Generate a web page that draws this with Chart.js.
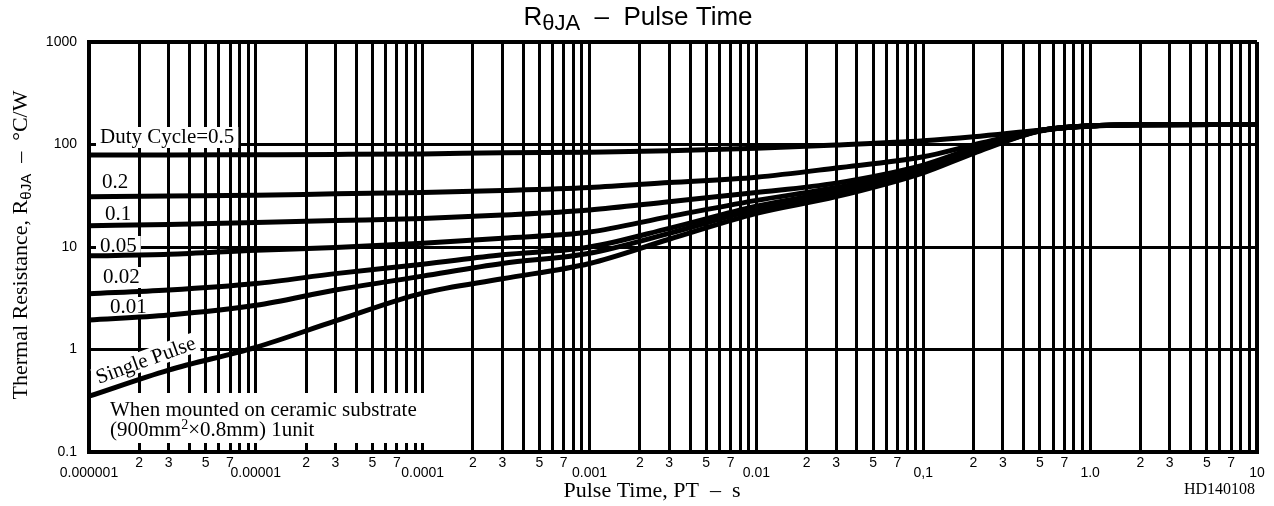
<!DOCTYPE html>
<html>
<head>
<meta charset="utf-8">
<script src="https://cdn.jsdelivr.net/npm/chart.js@4.4.1/dist/chart.umd.min.js"></script>
<style>
  html, body { margin: 0; padding: 0; background: #fff; }
  #chart { display: block; }
</style>
</head>
<body>
<canvas id="chart" width="1274" height="506"></canvas>
<script>
// pulse times where the curves were read (s)
const pulseTime = [1e-6, 3e-6, 1e-5, 3e-5, 1e-4, 3e-4, 1e-3, 3e-3, 1e-2, 3e-2, 0.1, 0.2, 0.5, 1, 2, 10];

// thermal resistance (°C/W) for each duty cycle
const duty05 = [79, 79, 79.5, 80, 81, 83, 84, 87, 92, 99, 109, 119, 138, 152, 156, 157];
const duty02 = [31, 31.5, 32, 33, 34, 35.5, 38, 42.5, 48, 59, 76, 99, 137, 152, 156, 157];
const duty01 = [16.1, 16.6, 17.3, 18.1, 19, 20.5, 23, 27.7, 34, 42, 63, 92, 137, 152, 156, 157];
const duty005 = [8.2, 8.5, 9.3, 9.9, 10.9, 12.2, 14, 19.8, 28.5, 38, 58, 88, 137, 152, 156, 157];
const duty002 = [3.5, 3.8, 4.4, 5.5, 6.8, 8.4, 10, 15.2, 25, 35, 56, 85, 136, 152, 156, 157];
const duty001 = [1.94, 2.17, 2.7, 3.8, 5.2, 6.9, 8.7, 13.6, 23.3, 33, 55, 84, 136, 152, 156, 157];
const singlePulse = [0.35, 0.63, 1.05, 1.9, 3.55, 4.9, 6.9, 11.9, 21.3, 31, 53, 82, 135, 151, 156, 157];

const seriesValues = [duty05, duty02, duty01, duty005, duty002, duty001, singlePulse];

// axis ticks
const decadeValues = [1e-6, 1e-5, 1e-4, 1e-3, 1e-2, 0.1, 1, 10];
const decadeLabels = ['0.000001', '0.00001', '0.0001', '0.001', '0.01', '0,1', '1.0', '10'];
const minorLabels = ['', '2', '3', '', '5', '', '7', '', ''];
const yTicks = [0.1, 1, 10, 100, 1000];
const yTickLabels = ['0.1', '1', '10', '100', '1000'];

// every 1..9 x decade gets a grid line, only some get a label
const xTicks = [];
const xTickLabels = [];
decadeValues.forEach((d, i) => {
    if (i === decadeValues.length - 1) {
        xTicks.push(d);
        xTickLabels.push(['', decadeLabels[i]]);
        return;
    }
    for (let m = 1; m <= 9; m++) {
        xTicks.push(m * d);
        xTickLabels.push(m === 1 ? ['', decadeLabels[i]] : minorLabels[m - 1]);
    }
});

const SERIF = '"Liberation Serif", "Times New Roman", serif';
const SANS = '"Liberation Sans", Arial, sans-serif';

// draws text made of pieces with their own font and vertical shift
function drawRich(ctx, parts, x, y, alignLeft) {
    let w = 0;
    parts.forEach(p => { ctx.font = p.font; w += ctx.measureText(p.text).width; });
    let cx = alignLeft ? x : x - w / 2;
    parts.forEach(p => {
        ctx.font = p.font;
        ctx.fillText(p.text, cx, y + (p.dy || 0));
        cx += ctx.measureText(p.text).width;
    });
}

const curveLabels = [
    { text: 'Duty Cycle=0.5', x: 100, y: 143 },
    { text: '0.2', x: 102, y: 188 },
    { text: '0.1', x: 105, y: 220 },
    { text: '0.05', x: 100, y: 252 },
    { text: '0.02', x: 103, y: 283 },
    { text: '0.01', x: 110, y: 313 }
];

const textPlugin = {
    id: 'texts',
    beforeDatasetsDraw(chart) {
        const ctx = chart.ctx;
        ctx.save();
        ctx.font = '21px ' + SERIF;
        ctx.textBaseline = 'alphabetic';
        ctx.textAlign = 'left';
        curveLabels.forEach(l => {
            const w = ctx.measureText(l.text).width;
            ctx.fillStyle = '#fff';
            ctx.fillRect(l.x - 4, l.y - 16, w + 8, 21);
            ctx.fillStyle = '#000';
            ctx.fillText(l.text, l.x, l.y);
        });

        // Single Pulse, along the curve
        ctx.save();
        ctx.translate(146, 361);
        ctx.rotate(-20 * Math.PI / 180);
        const sw = ctx.measureText('Single Pulse').width;
        ctx.fillStyle = '#fff';
        ctx.fillRect(-sw / 2 - 3, -11, sw + 6, 20);
        ctx.fillStyle = '#000';
        ctx.textAlign = 'center';
        ctx.textBaseline = 'middle';
        ctx.fillText('Single Pulse', 0, 0);
        ctx.restore();

        // mounting note
        ctx.fillStyle = '#fff';
        ctx.fillRect(104, 393, 322, 50);
        ctx.fillStyle = '#000';
        ctx.fillText('When mounted on ceramic substrate', 110, 416);
        drawRich(ctx, [
            { text: '(900mm', font: '21px ' + SERIF },
            { text: '2', font: '14px ' + SERIF, dy: -7 },
            { text: '\u00d70.8mm) 1unit', font: '21px ' + SERIF }
        ], 110, 436, true);
        ctx.restore();
    },
    afterDraw(chart) {
        const ctx = chart.ctx;
        ctx.save();
        ctx.fillStyle = '#000';
        ctx.textAlign = 'left';
        ctx.textBaseline = 'alphabetic';

        // title
        drawRich(ctx, [
            { text: 'R', font: '26px ' + SANS },
            { text: '\u03b8JA', font: '22px ' + SANS, dy: 5 },
            { text: '  \u2013  Pulse Time', font: '26px ' + SANS }
        ], 638, 25);

        // y axis title
        ctx.save();
        ctx.translate(27, 245);
        ctx.rotate(-Math.PI / 2);
        drawRich(ctx, [
            { text: 'Thermal Resistance, R', font: '22px ' + SERIF },
            { text: '\u03b8JA', font: '15px ' + SANS, dy: 4 },
            { text: '  \u2013  \u00b0C/W', font: '22px ' + SERIF }
        ], 0, 0);
        ctx.restore();

        // x axis title
        drawRich(ctx, [{ text: 'Pulse Time, PT  \u2013  s', font: '22px ' + SERIF }], 652, 497);

        ctx.font = '16px ' + SERIF;
        ctx.textAlign = 'right';
        ctx.fillText('HD140108', 1255, 494);
        ctx.restore();
    }
};

const datasets = seriesValues.map(vals => ({
    data: pulseTime.map((t, i) => ({ x: t, y: vals[i] })),
    borderColor: '#000',
    borderWidth: 5,
    pointRadius: 0,
    fill: false,
    cubicInterpolationMode: 'monotone'
}));

new Chart(document.getElementById('chart').getContext('2d'), {
    type: 'line',
    data: { datasets: datasets },
    options: {
        responsive: false,
        animation: false,
        layout: { padding: { top: 42, right: 17, left: 0, bottom: 0 } },
        plugins: {
            legend: { display: false },
            tooltip: { enabled: false },
            title: { display: false }
        },
        scales: {
            x: {
                type: 'logarithmic',
                min: 1e-6,
                max: 10,
                afterBuildTicks: scale => { scale.ticks = xTicks.map(v => ({ value: v })); },
                afterFit: scale => { scale.height = 54; },
                grid: {
                    color: '#000',
                    lineWidth: c => (c.index === xTicks.length - 1 ? 4 : 3),
                    drawTicks: false
                },
                border: { color: '#000', width: 4 },
                ticks: {
                    autoSkip: false,
                    maxRotation: 0,
                    minRotation: 0,
                    padding: 6,
                    color: '#000',
                    font: { family: SANS, size: 14, lineHeight: '10px' },
                    callback: (v, i) => xTickLabels[i]
                }
            },
            y: {
                type: 'logarithmic',
                min: 0.1,
                max: 1000,
                afterBuildTicks: scale => { scale.ticks = yTicks.map(v => ({ value: v })); },
                afterFit: scale => { scale.width = 89; },
                grid: {
                    color: '#000',
                    lineWidth: c => (c.index === yTicks.length - 1 ? 4 : 3),
                    drawTicks: false
                },
                border: { color: '#000', width: 4 },
                ticks: {
                    padding: 12,
                    color: '#000',
                    font: { family: SANS, size: 14 },
                    callback: (v, i) => yTickLabels[i]
                }
            }
        }
    },
    plugins: [textPlugin]
});
</script>
</body>
</html>
